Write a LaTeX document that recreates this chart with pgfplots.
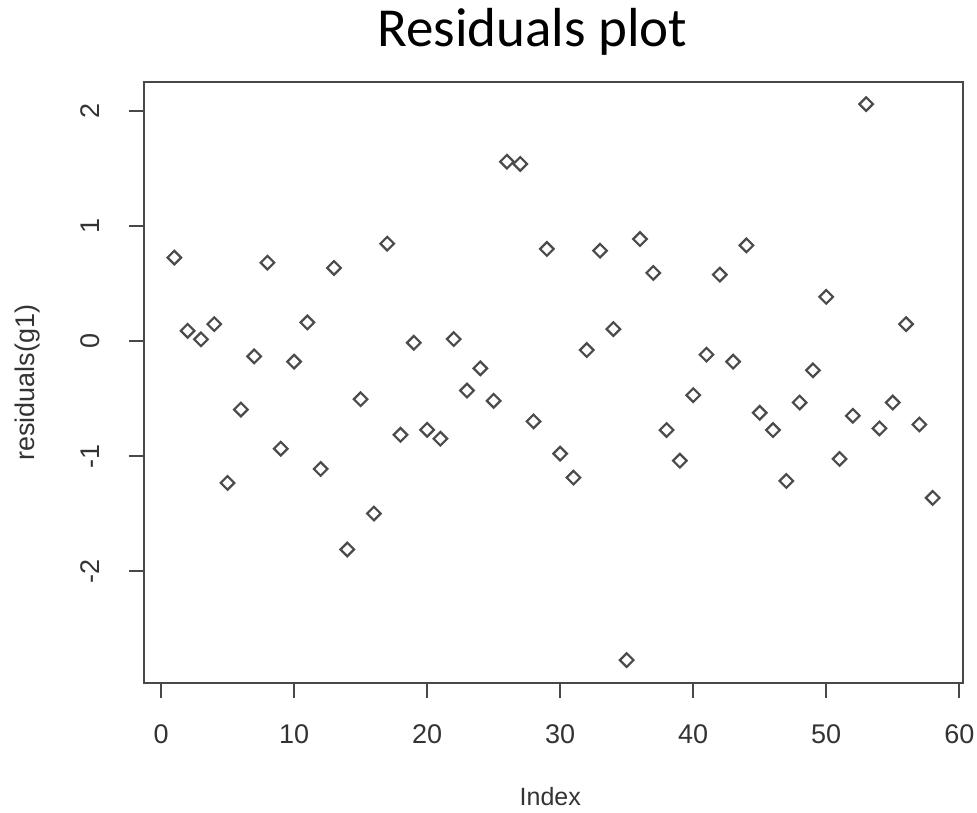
\documentclass[border=0pt]{standalone}
\usepackage{fontspec}
\setmainfont{Liberation Sans}
\newfontfamily\titlefont{Carlito}
\usepackage{pgfplots}
\usepackage{pgfplotstable}
\pgfplotsset{compat=1.18}
\definecolor{framegray}{RGB}{72,72,72}
\definecolor{markgray}{RGB}{75,75,75}

% residuals of g1
\pgfplotstableread{
idx res
1 0.725
2 0.089
3 0.015
4 0.147
5 -1.232
6 -0.595
7 -0.133
8 0.681
9 -0.935
10 -0.179
11 0.162
12 -1.111
13 0.635
14 -1.810
15 -0.505
16 -1.498
17 0.846
18 -0.814
19 -0.015
20 -0.771
21 -0.848
22 0.017
23 -0.430
24 -0.237
25 -0.519
26 1.558
27 1.538
28 -0.698
29 0.800
30 -0.978
31 -1.186
32 -0.078
33 0.785
34 0.104
35 -2.771
36 0.886
37 0.592
38 -0.773
39 -1.039
40 -0.470
41 -0.118
42 0.577
43 -0.179
44 0.831
45 -0.623
46 -0.773
47 -1.215
48 -0.534
49 -0.254
50 0.384
51 -1.024
52 -0.649
53 2.058
54 -0.759
55 -0.534
56 0.147
57 -0.725
58 -1.362
}\resid

\begin{document}
\begin{tikzpicture}
\path[use as bounding box] (-144pt,-129pt) rectangle (833pt,683pt);
\begin{axis}[
    at={(0pt,0pt)}, anchor=south west,
    scale only axis,
    width=819pt, height=601pt,
    xmin=-1.28, xmax=60.28,
    ymin=-2.97, ymax=2.25,
    xtick={0,10,...,60},
    ytick={-2,-1,0,1,2},
    xtick pos=bottom, ytick pos=left,
    tick align=outside,
    major tick length=15pt,
    axis line style={framegray, line width=2.2pt},
    tick style={framegray, line width=2.2pt},
    /pgf/number format/assume math mode=true,
    ticklabel style={font=\fontsize{27}{30}\selectfont, text=black!80},
    xticklabel style={anchor=base, yshift=-45pt},
    yticklabel style={xshift=-29pt, rotate=90, anchor=base},
    title={Residuals plot},
    title style={font=\titlefont\fontsize{55}{60}\selectfont,
        at={(axis description cs:0.474,1.0483)}, anchor=base},
    xlabel={Index},
    xlabel style={font=\fontsize{25}{28}\selectfont, text=black!80,
        at={(axis description cs:0.496,-0.203)}, anchor=base},
    ylabel={residuals(g1)},
    ylabel style={font=\fontsize{27}{30}\selectfont, text=black!80,
        at={(axis description cs:-0.1343,0.5)}, anchor=base},
]
\addplot[only marks, mark=square, mark size=4.8pt,
    mark options={rotate=45, draw=markgray, line width=2.2pt, fill=none}]
    table[x=idx, y=res] {\resid};
\end{axis}
\end{tikzpicture}
\end{document}
